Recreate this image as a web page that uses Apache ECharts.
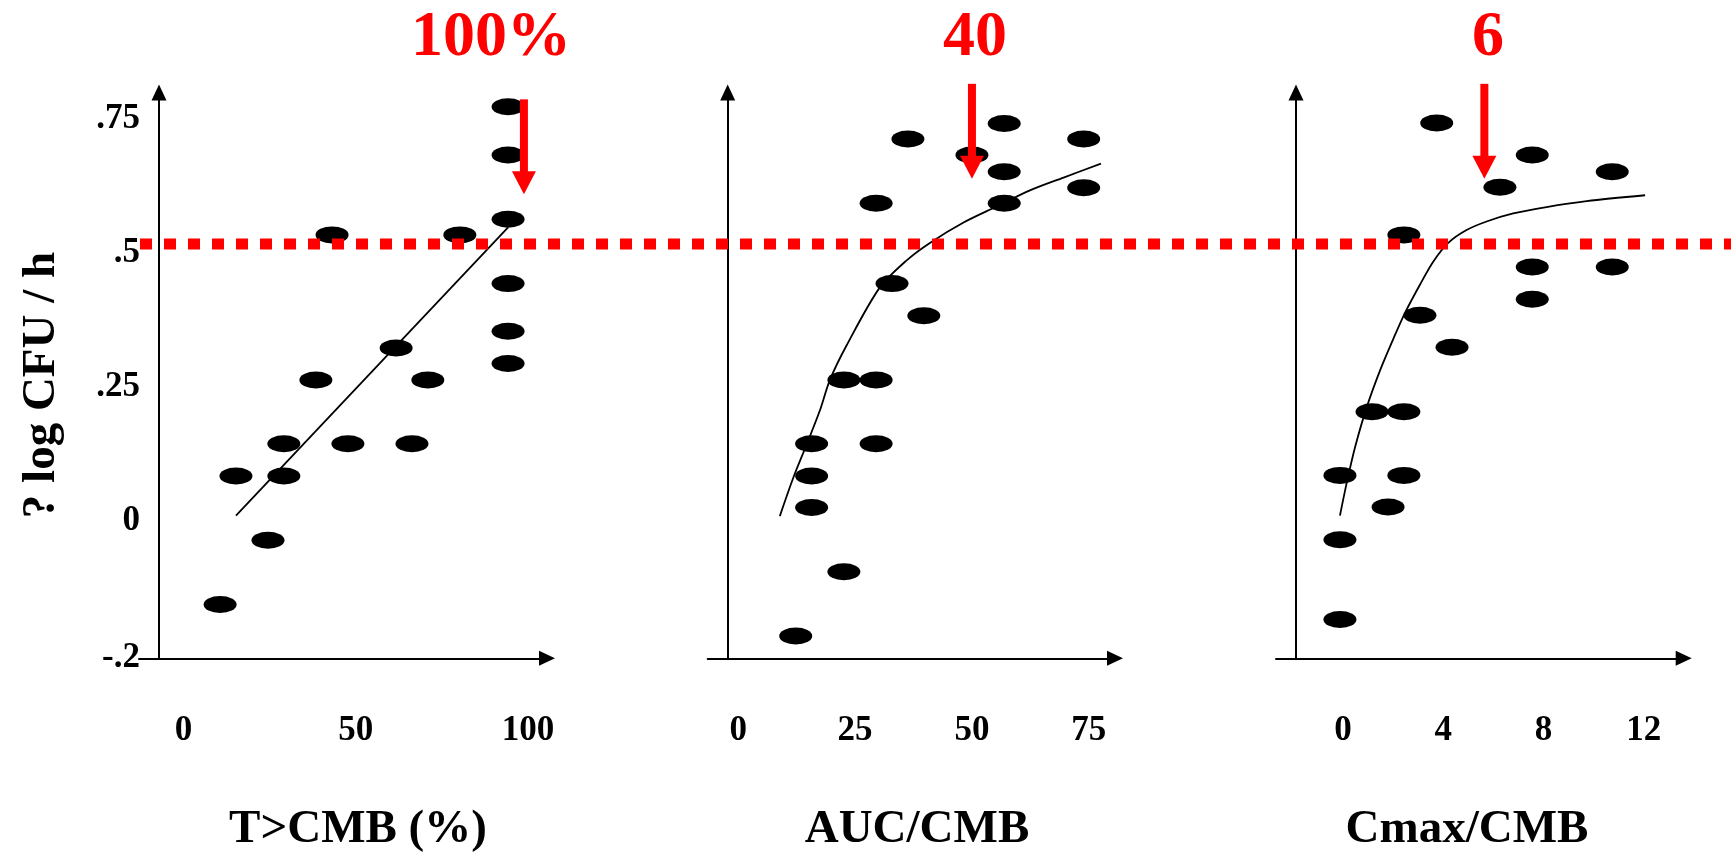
<!DOCTYPE html>
<html>
<head>
<meta charset="utf-8">
<title>PK/PD index vs kill rate</title>
<script src="https://cdn.jsdelivr.net/npm/echarts@6/dist/echarts.min.js"></script>
<style>
  html, body { margin: 0; padding: 0; background: #fff; }
  #chart { width: 1731px; height: 852px; }
</style>
</head>
<body>
<div id="chart"></div>
<script>
// shared y scale (? log CFU / h)
const yTickValues = [-0.2565, 0, 0.25, 0.5, 0.75]
const yTickLabels = ['-.2', '0', '.25', '.5', '.75']
const thresholdY = 0.517

// panel 1 : T>CMB (%)
const timeTicks = [0, 50, 100]
const timeX = [94.2, 94.2, 94.2, 43.1, 80.2, 94.2, 94.2, 94.2, 61.7, 38.4, 70.9, 29.1, 47.7, 66.3, 15.2, 29.1, 24.5, 10.6]
const timeY = [0.773, 0.683, 0.563, 0.534, 0.534, 0.443, 0.354, 0.294, 0.323, 0.263, 0.263, 0.144, 0.144, 0.144, 0.084, 0.084, -0.036, -0.156]
const timeFitX = [15.2, 94.2]
const timeFitY = [0.010, 0.548]

// panel 2 : AUC/CMB
const aucTicks = [0, 25, 50, 75]
const aucX = [56.9, 36.3, 73.9, 50.0, 56.9, 73.9, 29.5, 56.9, 32.9, 39.7, 22.6, 29.5, 15.7, 29.5, 15.7, 15.7, 22.6, 12.3]
const aucY = [0.742, 0.713, 0.713, 0.683, 0.652, 0.622, 0.593, 0.593, 0.443, 0.383, 0.263, 0.263, 0.144, 0.144, 0.084, 0.025, -0.095, -0.215]
const aucFitX = [8.9, 11.8, 14.7, 17.5, 19.6, 23.2, 30.3, 36.1, 41.0, 48.2, 55.3, 62.4, 69.6, 77.6]
const aucFitY = [0.009, 0.081, 0.144, 0.207, 0.263, 0.328, 0.436, 0.487, 0.519, 0.557, 0.587, 0.617, 0.641, 0.667]

// panel 3 : Cmax/CMB
const cmaxTicks = [0, 4, 8, 12]
const cmaxX = [3.74, 7.55, 10.74, 6.26, 2.43, 7.55, 10.74, 7.55, 3.07, 4.35, 1.16, 2.43, -0.12, 2.43, 1.80, -0.12, -0.12]
const cmaxY = [0.743, 0.683, 0.652, 0.623, 0.534, 0.474, 0.474, 0.414, 0.384, 0.324, 0.204, 0.204, 0.085, 0.085, 0.026, -0.035, -0.184]
const cmaxFitX = [-0.12, 0.15, 0.48, 0.94, 1.48, 2.01, 2.47, 3.07, 3.60, 4.20, 4.93, 5.73, 6.79, 8.12, 9.72, 12.05]
const cmaxFitY = [0.010, 0.071, 0.137, 0.211, 0.281, 0.340, 0.388, 0.441, 0.484, 0.519, 0.543, 0.559, 0.574, 0.586, 0.597, 0.608]

// red arrows: x, top, tip  and the breakpoint labels
const arrowX = [98.8, 50.0, 5.64]
const arrowTop = [0.787, 0.816, 0.816]
const arrowTip = [0.610, 0.639, 0.639]
const breakpointLabels = ['100%', '40', '6']
const axisTitles = ['T>CMB (%)', 'AUC/CMB', 'Cmax/CMB']
const yTitle = '? log CFU / h'

const FONT = '"Liberation Serif", "Times New Roman", serif'
const RED = '#ff0000'

const zip = (xs, ys) => xs.map((x, i) => [x, ys[i]])

const panels = [
  {left: 139, width: 408, min: -12.95, max: 105.5, ticks: timeTicks},
  {left: 707.7, width: 407.3, min: -6.53, max: 80.6, ticks: aucTicks},
  {left: 1276, width: 407.7, min: -2.67, max: 13.59, ticks: cmaxTicks}
]

const axisLine = {
  lineStyle: {color: '#000', width: 2},
  symbol: ['none', 'triangle'],
  symbolSize: [15, 16],
  onZero: false
}

const grids = panels.map(p => ({
  left: p.left, width: p.width, top: 92.4, height: 565.9, outerBoundsMode: 'none'
}))

const xAxes = panels.map((p, i) => ({
  type: 'value', gridIndex: i, min: p.min, max: p.max,
  axisLine: axisLine,
  axisTick: {show: false},
  splitLine: {show: false},
  axisLabel: {
    customValues: p.ticks,
    margin: 55,
    color: '#000', fontFamily: FONT, fontWeight: 'bold', fontSize: 35
  }
}))

const yAxes = panels.map((p, i) => ({
  type: 'value', gridIndex: i, min: yTickValues[0], max: 0.80,
  offset: -20,
  axisLine: axisLine,
  axisTick: {show: false},
  splitLine: {show: false},
  axisLabel: {
    show: i === 0,
    customValues: yTickValues,
    formatter: v => {
      const k = yTickValues.findIndex(t => Math.abs(t - v) < 1e-6)
      return k >= 0 ? yTickLabels[k] : ''
    },
    margin: 19,
    color: '#000', fontFamily: FONT, fontWeight: 'bold', fontSize: 35
  }
}))

const dots = [zip(timeX, timeY), zip(aucX, aucY), zip(cmaxX, cmaxY)]
const fits = [zip(timeFitX, timeFitY), zip(aucFitX, aucFitY), zip(cmaxFitX, cmaxFitY)]

function renderThreshold (params, api) {
  const p = api.coord([api.value(0), api.value(1)])
  return {
    type: 'line',
    shape: {x1: p[0] + 1, y1: p[1], x2: api.getWidth(), y2: p[1]},
    style: {stroke: RED, lineWidth: 11, lineDash: [12, 12]}
  }
}

function renderArrow (params, api) {
  const top = api.coord([api.value(0), api.value(1)])
  const tip = api.coord([api.value(0), api.value(2)])
  const headH = 23
  const headW = 24
  const shaft = 8
  return {
    type: 'group',
    children: [
      {type: 'rect', shape: {x: top[0] - shaft / 2, y: top[1], width: shaft, height: tip[1] - headH - top[1] + 1}, style: {fill: RED}},
      {type: 'polygon', shape: {points: [[tip[0] - headW / 2, tip[1] - headH], [tip[0] + headW / 2, tip[1] - headH], [tip[0], tip[1]]]}, style: {fill: RED}}
    ]
  }
}

const series = []
panels.forEach((p, i) => {
  series.push({
    type: 'scatter', xAxisIndex: i, yAxisIndex: i,
    symbol: 'circle', symbolSize: [33, 17],
    itemStyle: {color: '#000', opacity: 1},
    data: dots[i], z: 3
  })
  series.push({
    type: 'line', xAxisIndex: i, yAxisIndex: i,
    data: fits[i], smooth: 0.3, showSymbol: false,
    lineStyle: {color: '#000', width: 1.8}, z: 4
  })
  series.push({
    type: 'custom', xAxisIndex: i, yAxisIndex: i,
    renderItem: renderArrow, clip: false, z: 10,
    encode: {x: 0, y: [1, 2]},
    data: [[arrowX[i], arrowTop[i], arrowTip[i]]]
  })
})
series.push({
  type: 'custom', xAxisIndex: 0, yAxisIndex: 0,
  renderItem: renderThreshold, clip: false, z: 9,
  encode: {x: 0, y: 1},
  data: [[panels[0].min, thresholdY]]
})

// text placed like on the original slide
const labelPos = [491, 975, 1488]
const titlePos = [358, 917, 1467]
const graphic = []
breakpointLabels.forEach((t, i) => {
  graphic.push({
    type: 'text', x: labelPos[i], y: 38,
    style: {text: t, fill: RED, font: 'bold 64px ' + FONT, textAlign: 'center', textVerticalAlign: 'middle'}
  })
})
axisTitles.forEach((t, i) => {
  graphic.push({
    type: 'text', x: titlePos[i], y: 830,
    style: {text: t, fill: '#000', font: 'bold 47px ' + FONT, textAlign: 'center', textVerticalAlign: 'middle'}
  })
})
graphic.push({
  type: 'text', x: 42, y: 385, rotation: Math.PI / 2,
  style: {text: yTitle, fill: '#000', font: 'bold 47px ' + FONT, textAlign: 'center', textVerticalAlign: 'middle'}
})

const chart = echarts.init(document.getElementById('chart'))
chart.setOption({
  animation: false,
  backgroundColor: '#fff',
  grid: grids,
  xAxis: xAxes,
  yAxis: yAxes,
  series: series,
  graphic: graphic
})
</script>
</body>
</html>
